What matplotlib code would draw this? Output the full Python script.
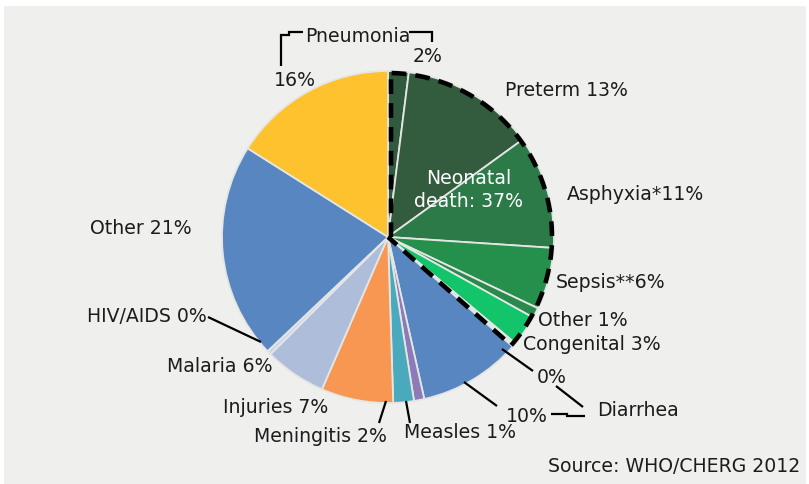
import matplotlib
matplotlib.use("Agg")
import matplotlib.pyplot as plt
import numpy as np
from matplotlib.patches import Rectangle

W, H = 809, 485

# ---- data (clockwise from 12 o'clock) ----
causes = ["Pneumonia (neonatal)", "Preterm", "Asphyxia", "Sepsis", "Other (neonatal)",
          "Congenital", "Diarrhea (neonatal)", "Diarrhea", "Measles", "Meningitis",
          "Injuries", "Malaria", "HIV/AIDS", "Other", "Pneumonia"]
shares = [2, 13, 11, 6, 1, 3, 0.4, 10, 1, 2, 7, 6, 0.4, 21, 16]
colors = ["#30593d", "#335b3e", "#2b7a48", "#25904b", "#2a8a4c",
          "#12c56b", "#d4f3e0", "#5886c0", "#8c7bb8", "#4ba9bd",
          "#f79752", "#aebdd9", "#c9d5ea", "#5886c0", "#fdc22e"]
n_neonatal = 7

label_texts = ["Preterm 13%", "Asphyxia*11%", "Sepsis**6%", "Other 1%", "Congenital 3%",
               "0%", "Diarrhea", "10%", "Measles 1%", "Meningitis 2%", "Injuries 7%",
               "Malaria 6%", "HIV/AIDS 0%", "Other 21%", "Pneumonia", "2%", "16%"]

fig = plt.figure(figsize=(W / 100, H / 100), dpi=100, facecolor="white")
ax = fig.add_axes([0, 0, 1, 1])

def Y(y):
    return H - y

cx, cy, R = 388, Y(238), 166
wedges, _ = ax.pie(shares, colors=colors, startangle=90, counterclock=False,
                   center=(cx, cy), radius=R, frame=True,
                   wedgeprops=dict(edgecolor="#e4e6e4", linewidth=1.3))
ax.set_xlim(0, W)
ax.set_ylim(0, H)
ax.set_aspect("equal")
ax.axis("off")
for w in wedges:
    w.set_zorder(2)

# background panel
ax.add_patch(Rectangle((4, 0), W - 7, H - 7, facecolor="#eff0ee", edgecolor="none", zorder=0))

# dashed outline around neonatal group
a_start = wedges[0].theta2
a_end = wedges[n_neonatal - 1].theta1
th = np.radians(np.linspace(a_start, a_end, 200))
r_in = R - 2
xs = np.concatenate([[cx + 3], cx + r_in * np.cos(th), [cx]])
ys = np.concatenate([[cy], cy + r_in * np.sin(th), [cy]])
xs[1] = cx + 3
ax.plot(xs, ys, color="black", lw=3.3,
        linestyle=(0, (3.2, 2.0)), zorder=5, dash_capstyle="butt")

fs = 13.6
tc = "#1c1c1c"
def txt(x, y, s, ha="left", color=tc, size=fs):
    ax.text(x, Y(y), s, ha=ha, va="center", fontsize=size, color=color,
            family="DejaVu Sans", zorder=6)

txt(505, 90, label_texts[0])
txt(567, 195, label_texts[1])
txt(556, 283, label_texts[2])
txt(538, 320, label_texts[3])
txt(523, 344, label_texts[4])
txt(537, 378, label_texts[5])
txt(597, 411, label_texts[6])
txt(506, 417, label_texts[7])
txt(404, 433, label_texts[8])
txt(254, 437, label_texts[9])
txt(223, 408, label_texts[10])
txt(273, 367, label_texts[11], ha="right")
txt(207, 317, label_texts[12], ha="right")
txt(192, 228, label_texts[13], ha="right")
txt(305, 36, label_texts[14])
txt(428, 57, label_texts[15], ha="center")
txt(295, 80, label_texts[16], ha="center")
ax.text(469, Y(190), "Neonatal\ndeath: 37%", ha="center", va="center", fontsize=fs,
        color="white", family="DejaVu Sans", linespacing=1.3, zorder=6)
txt(800, 467, "Source: WHO/CHERG 2012", ha="right")

def line(pts, lw=1.6):
    p = np.array(pts, dtype=float)
    ax.plot(p[:, 0], H - p[:, 1], color="black", lw=lw, zorder=6,
            solid_capstyle="butt", solid_joinstyle="miter")

line([(303, 33), (289, 33), (289, 36), (281, 36), (281, 67)])
line([(409, 33), (432, 33), (432, 43)])
line([(208, 318), (261, 343)])
line([(386, 402), (379, 424)])
line([(406, 402), (410, 424)])
line([(464, 383), (497, 407)])
line([(502, 350), (533, 372)])
line([(556, 387), (583, 408)])
line([(551, 415), (567, 415), (567, 417), (585, 417)])

fig.savefig("out.png", dpi=100, facecolor="white")
